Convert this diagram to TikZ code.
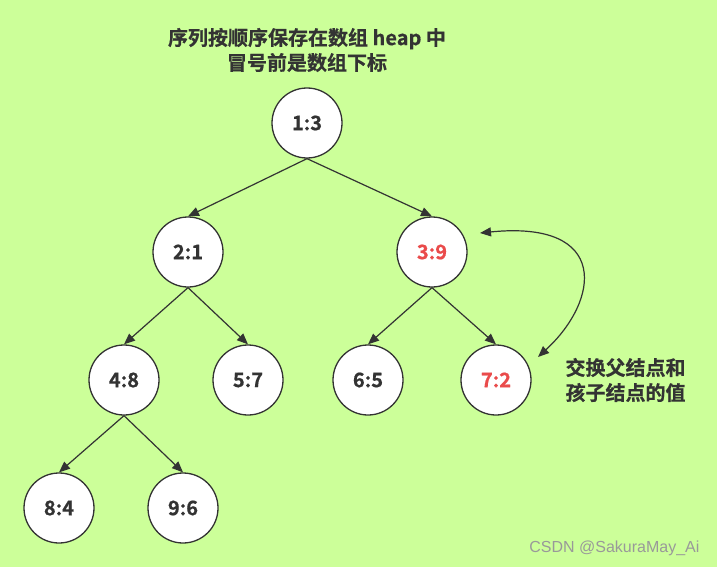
\documentclass[tikz,border=0pt]{standalone}
\usepackage{fontspec}
\setmainfont{Noto Sans CJK SC}[BoldFont={Noto Sans CJK SC Bold},BoldFeatures={FakeBold=0.6}]
\newfontfamily\wmfont{Liberation Sans}
\usetikzlibrary{arrows.meta}
\definecolor{bg}{HTML}{CCFF99}
\definecolor{ink}{HTML}{333333}
\definecolor{hot}{HTML}{EA4B4B}
\begin{document}
\begin{tikzpicture}[x=1pt,y=-1pt,
  heapnode/.style={circle,draw=ink,line width=1.3pt,fill=white,minimum size=70pt,inner sep=0pt,
    font=\fontsize{20}{20}\selectfont\bfseries,text=ink},
  hotnode/.style={heapnode,text=hot},
  edge/.style={draw=ink,line width=1.2pt,-{Triangle[length=11pt,width=9pt]}},
  lbl/.style={font=\fontsize{20}{25}\selectfont\bfseries,text=ink,align=center}]
\fill[bg] (0,0) rectangle (717,567);
\useasboundingbox (0,0) rectangle (717,567);
\node[lbl] (title) at (307,50) {序列按顺序保存在数组 heap 中\\冒号前是数组下标};
\node[heapnode] (n1) at (307,123) {1:3};
\node[heapnode] (n2) at (188,252) {2:1};
\node[hotnode] (n3) at (432,252) {3:9};
\node[heapnode] (n4) at (124,380) {4:8};
\node[heapnode] (n5) at (248,380) {5:7};
\node[heapnode] (n6) at (368,380) {6:5};
\node[hotnode] (n7) at (496,380) {7:2};
\node[heapnode] (n8) at (59,508) {8:4};
\node[heapnode] (n9) at (183,508) {9:6};
\draw[edge] (n1.south) -- (n2.north);
\draw[edge] (n1.south) -- (n3.north);
\draw[edge] (n2.south) -- (n4.north);
\draw[edge] (n2.south) -- (n5.north);
\draw[edge] (n3.south) -- (n6.north);
\draw[edge] (n3.south) -- (n7.north);
\draw[edge] (n4.south) -- (n8.north);
\draw[edge] (n4.south) -- (n9.north);
\coordinate (sa) at (480,233);
\coordinate (sb) at (538,357);
\draw[draw=ink,line width=1.2pt,{Triangle[length=11pt,width=9pt]}-{Triangle[length=11pt,width=9pt]}]
  (sa) .. controls (610,220) and (600,300) .. (sb);
\node[lbl,anchor=west] (swap) at (562,380) {交换父结点和\\孩子结点的值};
\node[font=\wmfont\fontsize{16}{16}\selectfont,text=black!40,anchor=east] (wm) at (703,548) {CSDN @SakuraMay\_Ai};
\end{tikzpicture}
\end{document}
